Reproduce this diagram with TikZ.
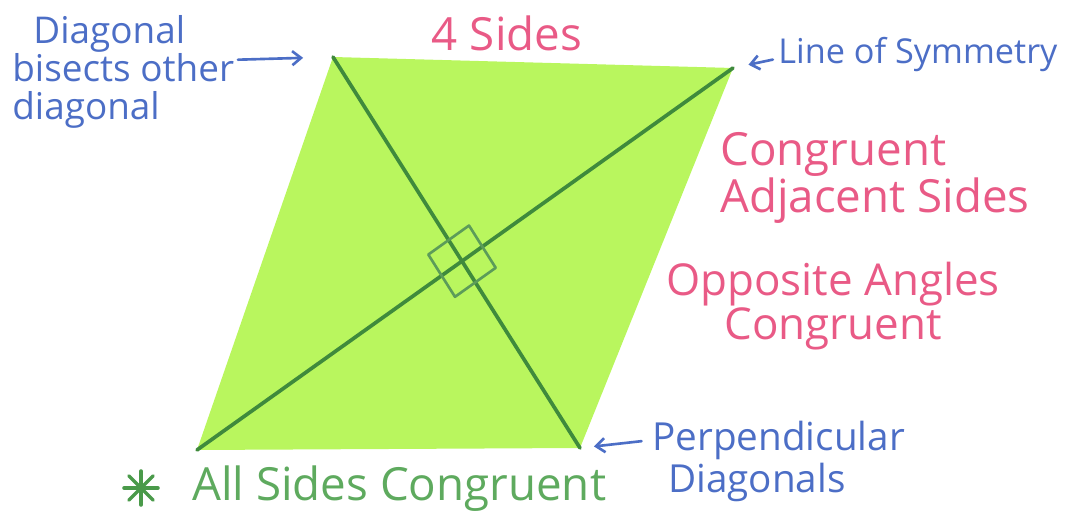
\documentclass[tikz,border=0pt]{standalone}
\usepackage{fontspec}
\setmainfont{Open Sans}
\usetikzlibrary{positioning, arrows.meta, calc}
\definecolor{RhombGreen}{HTML}{B9F65E}
\definecolor{DiagGreen}{HTML}{3F8A3C}
\definecolor{NoteBlue}{HTML}{4C6EC6}
\definecolor{NotePink}{HTML}{E95A86}
\definecolor{NoteGreen}{HTML}{5EAA5E}
\definecolor{StarGreen}{HTML}{4A9A4A}

\begin{document}
\begin{tikzpicture}[x=0.02cm, y=-0.02cm,
  diag/.style={draw=DiagGreen, line width=2.1pt, line cap=round},
  rightbox/.style={draw=DiagGreen!85, line width=1.5pt, line join=round},
  bluenote/.style={text=NoteBlue, inner sep=0pt, align=left, font=\fontsize{21}{21.6}\selectfont},
  pinknote/.style={text=NotePink, inner sep=0pt, align=left, font=\fontsize{26}{23}\selectfont},
  greennote/.style={text=NoteGreen, inner sep=0pt, font=\fontsize{26}{28}\selectfont},
  starline/.style={draw=StarGreen, line width=2pt, line cap=round},
  pointer/.style={draw=NoteBlue, line width=1.5pt, line cap=round, -{Straight Barb[length=5pt, width=8pt]}},
]
  \useasboundingbox (0,0) rectangle (1065,523);
  % rhombus corners
  \coordinate (TL) at (333,57);
  \coordinate (TR) at (733,68);
  \coordinate (BR) at (580,448);
  \coordinate (BL) at (197,450);
  \fill[RhombGreen] (TL) -- (TR) -- (BR) -- (BL) -- cycle;
  % diagonals
  \draw[diag] (TL) -- (BR);
  \draw[diag] (BL) -- (TR);
  % right angle box round the crossing
  \coordinate (X) at (intersection of TL--BR and BL--TR);
  \coordinate (m1) at ($(X)!0.5cm!(TL)$);
  \coordinate (m2) at ($(X)!0.5cm!(TR)$);
  \coordinate (m3) at ($(X)!0.5cm!(BR)$);
  \coordinate (m4) at ($(X)!0.5cm!(BL)$);
  \draw[rightbox] ($(m1)+(m2)-(X)$) -- ($(m2)+(m3)-(X)$) -- ($(m3)+(m4)-(X)$) -- ($(m4)+(m1)-(X)$) -- cycle;
  % blue notes
  \node[bluenote, anchor=west] (bisect) at (12,72) {\hspace*{12pt}Diagonal\\bisects other\\diagonal};
  \draw[pointer, shorten >=17pt] ([xshift=2pt, yshift=7pt]bisect.east) -- (TL);
  \node[bluenote, anchor=west, font=\fontsize{19.5}{21}\selectfont] (sym) at (778,55) {Line of Symmetry};
  \draw[pointer, shorten <=3pt, shorten >=9pt] ([yshift=-2pt]sym.west) -- (TR);
  \node[bluenote, anchor=west, font=\fontsize{22}{22}\selectfont] (perp) at (652,440) {Perpendicular};
  \node[bluenote, anchor=north west, font=\fontsize{22}{22}\selectfont] (dgns) at ([xshift=9pt, yshift=-2pt]perp.south west) {Diagonals};
  \draw[pointer, shorten <=6pt, shorten >=8pt] (perp.west) -- (BR);
  % pink notes
  \node[pinknote] (four) at (507,33) {4 Sides};
  \node[pinknote, anchor=west] (adj) at (720,178) {Congruent\\Adjacent Sides};
  \node[pinknote, align=center, font=\fontsize{25}{22}\selectfont] (opp) at (833,306) {Opposite Angles\\Congruent};
  % green note
  \coordinate (star) at (141,488);
  \foreach \a in {0,45,90,135}
    \draw[starline] ($(star)+(\a:17)$) -- ($(star)-(\a:17)$);
  \node[greennote, anchor=west] (all) at (192,489) {All Sides Congruent};
\end{tikzpicture}
\end{document}
